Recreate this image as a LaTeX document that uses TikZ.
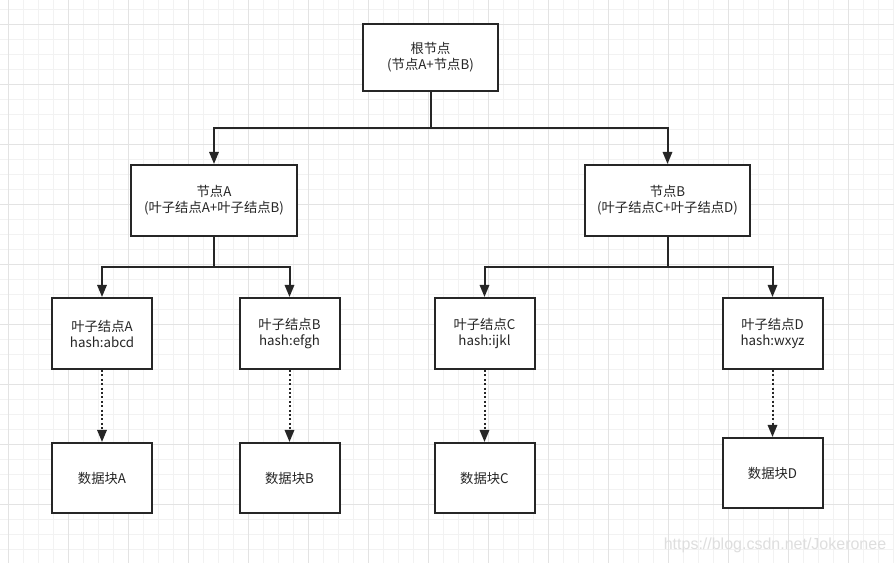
\documentclass[tikz,border=0pt]{standalone}
\usepackage{fontspec}
\setmainfont{Noto Sans CJK SC}
\newfontfamily\wmfont{Liberation Sans}
\usetikzlibrary{arrows.meta}
\definecolor{gridminor}{HTML}{F2F2F2}
\definecolor{gridmajor}{HTML}{E3E3E3}
\definecolor{ink}{HTML}{262626}
\begin{document}
\begin{tikzpicture}[x=0.75pt,y=-0.75pt,
  box/.style={draw=ink, fill=white, line width=1.5pt, rectangle, align=center,
    font=\fontsize{10pt}{12pt}\selectfont, text=ink, inner sep=0pt},
  leafbox/.style={box, minimum width=75pt, minimum height=53.25pt},
  databox/.style={box, minimum width=75pt, minimum height=52.5pt},
  conn/.style={draw=ink, line width=1.5pt, -{Triangle[length=9pt,width=7pt]}},
  dotconn/.style={conn, dash pattern=on 1.5pt off 1.8pt},
  plain/.style={draw=ink, line width=1.5pt}]
\useasboundingbox (0,0) rectangle (894,563);
\fill[white] (0,0) rectangle (894,563);
% grid
\foreach \x in {8.3,23.3,...,894} {\draw[gridminor, line width=0.6pt] (\x,0) -- (\x,563);}
\foreach \y in {9.3,24.3,...,563} {\draw[gridminor, line width=0.6pt] (0,\y) -- (894,\y);}
\foreach \x in {8.3,68.3,...,894} {\draw[gridmajor, line width=0.7pt] (\x,0) -- (\x,563);}
\foreach \y in {24.3,84.3,...,563} {\draw[gridmajor, line width=0.7pt] (0,\y) -- (894,\y);}
% nodes
\node[box, minimum width=101.25pt, minimum height=50.25pt] (root) at (430.5,57.5) {根节点\\(节点A+节点B)};
\node[box, minimum width=124.5pt, minimum height=53.25pt] (na) at (214,200.5) {节点A\\(叶子结点A+叶子结点B)};
\node[box, minimum width=123.75pt, minimum height=53.25pt] (nb) at (667.5,200.5) {节点B\\(叶子结点C+叶子结点D)};
\node[leafbox] (la) at (102,333.5) {叶子结点A\\hash:abcd};
\node[leafbox] (lb) at (289.5,333.5) {叶子结点B\\hash:efgh};
\node[leafbox] (lc) at (484.5,333.5) {叶子结点C\\hash:ijkl};
\node[leafbox] (ld) at (772.5,333.5) {叶子结点D\\hash:wxyz};
\node[databox] (da) at (102,478) {数据块A};
\node[databox] (db) at (289.5,478) {数据块B};
\node[databox] (dc) at (484.5,478) {数据块C};
\node[databox] (dd) at (772.5,473) {数据块D};
% junctions
\coordinate (j0) at (430.5,128);
\coordinate (j1) at (214,267);
\coordinate (j2) at (667.5,267);
\draw[plain] (root.south) -- (j0);
\draw[conn] (j0) -| (na.north);
\draw[conn] (j0) -| (nb.north);
\draw[plain] (na.south) -- (j1);
\draw[conn] (j1) -| (la.north);
\draw[conn] (j1) -| (lb.north);
\draw[plain] (nb.south) -- (j2);
\draw[conn] (j2) -| (lc.north);
\draw[conn] (j2) -| (ld.north);
\draw[dotconn] (la.south) -- (da.north);
\draw[dotconn] (lb.south) -- (db.north);
\draw[dotconn] (lc.south) -- (dc.north);
\draw[dotconn] (ld.south) -- (dd.north);
\node[text=black!13, font=\wmfont\fontsize{12pt}{14pt}\selectfont, inner sep=0pt] (wm) at (775,545) {https://blog.csdn.net/Jokeronee};
\end{tikzpicture}
\end{document}
